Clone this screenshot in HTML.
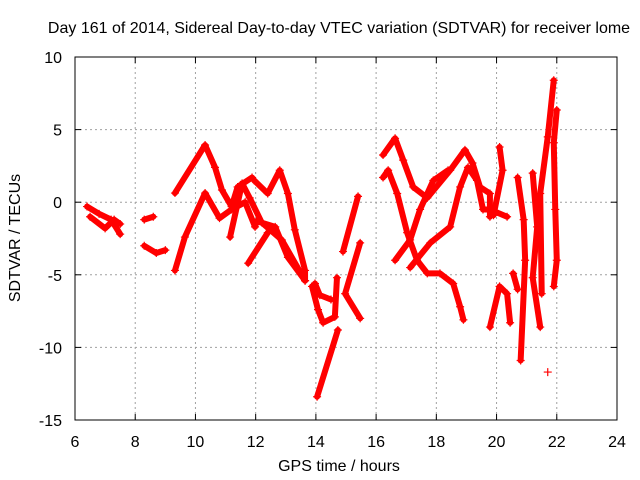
<!DOCTYPE html>
<html><head><meta charset="utf-8"><style>
body{margin:0;background:#fff}
svg{display:block;font-family:"Liberation Sans",sans-serif}
</style></head><body>
<svg id="c" width="640" height="480">
<text x="339" y="33" text-anchor="middle" font-size="16">Day 161 of 2014, Sidereal Day-to-day VTEC variation (SDTVAR) for receiver lome</text>
<text x="339" y="471" text-anchor="middle" font-size="16">GPS time / hours</text>
<text transform="translate(20,238) rotate(-90)" text-anchor="middle" font-size="16">SDTVAR / TECUs</text>
<g id="grid"></g><g id="ticks"></g><g id="marks"></g>
<rect x="75" y="57" width="542" height="363" fill="none" stroke="#000" stroke-width="1"/>
</svg>
<script>
const xTicks=[6,8,10,12,14,16,18,20,22,24];
const yTicks=[10,5,0,-5,-10,-15];
const traces=[
[[6.4,-0.3],[6.8,-0.8],[7.2,-1.2],[7.5,-2.2]],
[[6.5,-1.0],[7.0,-1.8],[7.3,-1.2],[7.5,-1.5]],
[[8.3,-1.2],[8.6,-1.0]],
[[8.3,-3.0],[8.7,-3.5],[9.0,-3.3]],
[[9.32,0.63],[10.32,3.94],[10.65,2.4],[10.88,0.84],[11.2,-0.3],[11.4,1.05],[11.88,1.7],[11.95,1.5],[12.4,0.6],[12.8,2.2],[13.07,0.6],[13.3,-1.9],[13.64,-4.7],[13.64,-5.4]],
[[9.32,-4.7],[9.65,-2.4],[10.32,0.63],[10.8,-1.1],[11.2,-0.5],[11.65,0.0],[11.98,-1.7],[12.03,-1.3],[12.65,-1.7],[13.07,-3.8],[13.64,-5.4]],
[[11.15,-2.4],[11.55,1.3],[11.8,0.3],[12.2,-1.4],[12.87,-2.6],[13.64,-5.4]],
[[11.75,-4.2],[12.4,-2.1]],
[[13.87,-5.8],[14.07,-7.4],[14.24,-8.3],[14.63,-7.9],[14.7,-5.2]],
[[13.97,-5.6],[14.13,-6.4],[14.5,-6.7]],
[[14.73,-8.8],[14.04,-13.4]],
[[15.4,0.4],[14.9,-3.4]],
[[15.47,-2.8],[14.97,-6.3],[15.47,-8.0]],
[[16.23,3.25],[16.63,4.4],[16.9,2.9],[17.23,1.05],[17.7,0.3],[18.46,2.2],[18.95,3.6],[19.2,2.7],[19.45,1.05],[19.78,0.6],[19.78,-1.0]],
[[16.23,1.7],[16.4,2.2],[16.7,0.6],[17.03,-2.1],[17.36,-4.0],[17.7,-4.9],[18.12,-4.9],[18.56,-5.6],[18.79,-7.2],[18.9,-8.1]],
[[16.63,-4.0],[17.13,-2.6],[17.46,-0.5],[17.9,1.5],[18.39,2.2]],
[[17.13,-4.5],[17.8,-2.8],[18.46,-1.7],[18.79,1.05],[19.05,2.4],[19.35,1.5],[19.55,-0.5],[19.78,-0.5],[20.35,-1.0]],
[[19.78,-8.6],[20.1,-5.8],[20.35,-6.3],[20.45,-8.3]],
[[20.1,3.8],[20.2,2.2],[19.9,-0.9]],
[[20.7,1.7],[20.9,-1.2],[20.95,-4.0],[20.8,-10.9]],
[[20.55,-4.9],[20.7,-6.0]],
[[21.2,2.0],[21.35,-1.7],[21.2,-5.2],[21.45,-8.6]],
[[21.9,8.4],[21.7,4.5],[21.45,0.6],[21.5,-6.3]],
[[22.0,6.35],[21.9,4.1],[21.95,-0.5],[22.0,-4.0],[21.9,-5.8]],
[[21.7,-11.7]]
];
const NS='http://www.w3.org/2000/svg';
const X=v=>75+(v-6)*542/18, Y=v=>57+(10-v)*363/25;
function mk(t,a,p){const e=document.createElementNS(NS,t);for(const k in a)e.setAttribute(k,a[k]);p.appendChild(e);return e;}
const g=document.getElementById('grid'),tk=document.getElementById('ticks'),m=document.getElementById('marks');
xTicks.forEach(v=>{const x=X(v);
 if(v>6&&v<24){const l=mk('line',{x1:x,x2:x,y1:57,y2:420,stroke:'#a0a0a0','stroke-dasharray':'2,3'},g);
 
 }
 const t=mk('text',{x:x,y:447,'text-anchor':'middle','font-size':'16'},tk);t.textContent=v;
 
 
 mk('line',{x1:x,x2:x,y1:420,y2:414,stroke:'#000'},tk);mk('line',{x1:x,x2:x,y1:57,y2:63,stroke:'#000'},tk);});
yTicks.forEach(v=>{const y=Y(v);
 if(v<10&&v>-15){const l=mk('line',{x1:75,x2:617,y1:y,y2:y,stroke:'#a0a0a0','stroke-dasharray':'2,3'},g);
 
 }
 const t=mk('text',{x:62,y:y+6,'text-anchor':'end','font-size':'16'},tk);t.textContent=v;
 
 
 mk('line',{x1:75,x2:81,y1:y,y2:y,stroke:'#000'},tk);mk('line',{x1:617,x2:611,y1:y,y2:y,stroke:'#000'},tk);});
traces.forEach((tr,i)=>{
 const pl=mk('polyline',{points:tr.map(p=>X(p[0])+','+Y(p[1])).join(' '),fill:'none',stroke:'#f00','stroke-width':6,'stroke-linejoin':'round','stroke-linecap':'round'},m);
 
 
 tr.forEach(p=>{const x=X(p[0]),y=Y(p[1]);
  const pm=mk('path',{d:`M${x-4},${y}h8M${x},${y-4}v8`,stroke:'#f00','stroke-width':1.2},m);
  
  });
});
</script>
</body></html>
